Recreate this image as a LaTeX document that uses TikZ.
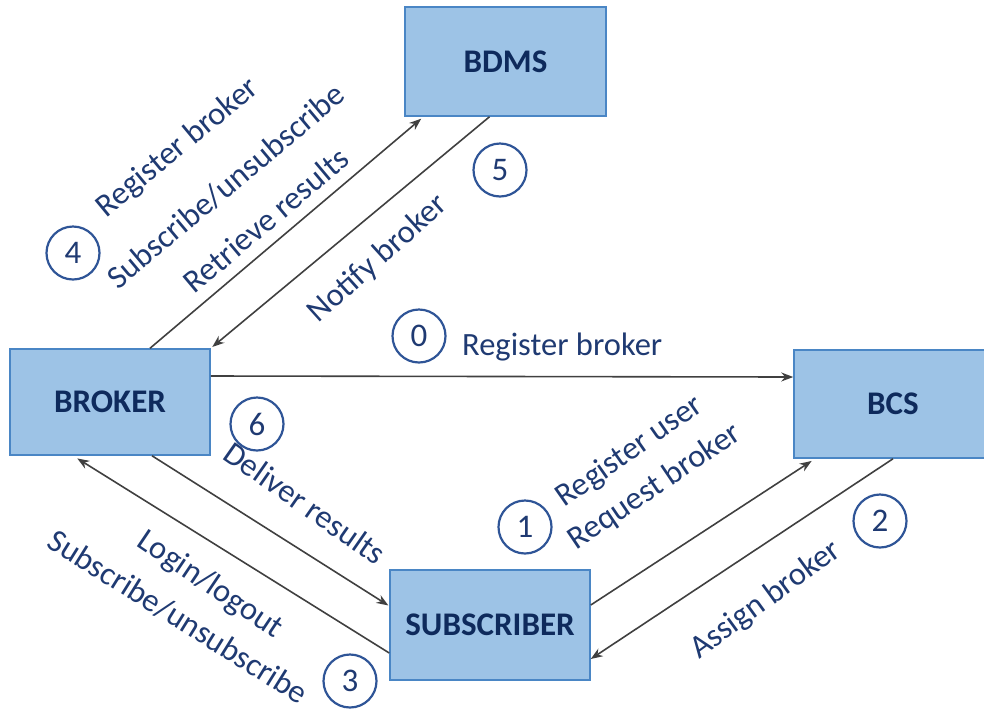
\documentclass[tikz,border=0pt]{standalone}
\usepackage{fontspec}
\setmainfont{Carlito}
\usetikzlibrary{arrows.meta,calc}

\definecolor{boxfill}{HTML}{9DC3E6}
\definecolor{boxline}{HTML}{4A86C5}
\definecolor{navy}{HTML}{1F3A72}
\definecolor{deepnavy}{HTML}{0E2A5C}
\definecolor{ringblue}{HTML}{2F5597}
\definecolor{wire}{HTML}{404040}

\tikzset{
  entity/.style={draw=boxline, line width=1.5pt, fill=boxfill, inner sep=0pt,
    font=\fontsize{33}{38}\selectfont\bfseries, text=deepnavy},
  msg/.style={font=\fontsize{32.5}{38}\selectfont, text=navy, inner sep=0pt},
  stepno/.style={circle, draw=ringblue, line width=2.2pt, minimum size=53pt,
    inner sep=0pt, font=\fontsize{33}{36}\selectfont, text=navy},
  flow/.style={draw=wire, line width=1.6pt, -{Stealth[length=12pt,width=9pt]}}
}

\begin{document}
\begin{tikzpicture}[x=1pt, y=-1pt]
  \useasboundingbox (0,0) rectangle (984,713);

  % components
  \node[entity, minimum width=201pt, minimum height=109pt] (bdms) at (505.5,61.5) {BDMS};
  \node[entity, minimum width=200pt, minimum height=106pt] (broker) at (110,402) {BROKER};
  \node[entity, minimum width=198pt, minimum height=108pt] (bcs) at (893,404) {BCS};
  \node[entity, minimum width=200pt, minimum height=110pt] (sub) at (490,625) {SUBSCRIBER};

  % message flows
  \draw[flow, shorten >=3pt] ([xshift=40pt]broker.north) -- ([xshift=-82pt]bdms.south);
  \draw[flow, shorten >=2pt] ([xshift=-16pt]bdms.south) -- (broker.north east);
  \draw[flow] ([yshift=26pt]broker.east) -- ([yshift=27pt]bcs.west);
  \draw[flow, shorten >=1pt] ([xshift=42pt]broker.south) -- ([yshift=19pt]sub.west);
  \draw[flow, shorten >=5pt] ([yshift=-28pt]sub.west) -- ([xshift=-37pt]broker.south);
  \draw[flow, shorten >=4pt] ([yshift=20pt]sub.east) -- ([xshift=-78pt]bcs.south);
  \draw[flow] ([xshift=0pt]bcs.south) -- ([yshift=-34pt]sub.east);

  % step numbers
  \node[stepno] (s0) at (419,336) {0};
  \node[stepno] (s1) at (525,527) {1};
  \node[stepno] (s2) at (880,521) {2};
  \node[stepno] (s3) at (350,681) {3};
  \node[stepno] (s4) at (73,253) {4};
  \node[stepno] (s5) at (500,170) {5};
  \node[stepno] (s6) at (257,424) {6};

  % messages
  \node[msg, anchor=base west] (m0) at (462,355) {Register broker};
  \node[msg, rotate=39.5] (m4a) at (178,148) {Register broker};
  \node[msg, rotate=40] (m4b) at (226,186) {Subscribe/unsubscribe};
  \node[msg, rotate=40] (m4c) at (266,220) {Retrieve results};
  \node[msg, rotate=42] (m5) at (378,259) {Notify broker};
  \node[msg, rotate=-35] (m6) at (305,503) {Deliver results};
  \node[msg, rotate=-34] (m3a) at (210,585) {Login/logout};
  \node[msg, rotate=-32] (m3b) at (178,617) {Subscribe/unsubscribe};
  \node[msg, rotate=35] (m1a) at (630,452) {Register user};
  \node[msg, rotate=34] (m1b) at (655,487) {Request broker};
  \node[msg, rotate=36] (m2) at (766,600) {Assign broker};
\end{tikzpicture}
\end{document}
